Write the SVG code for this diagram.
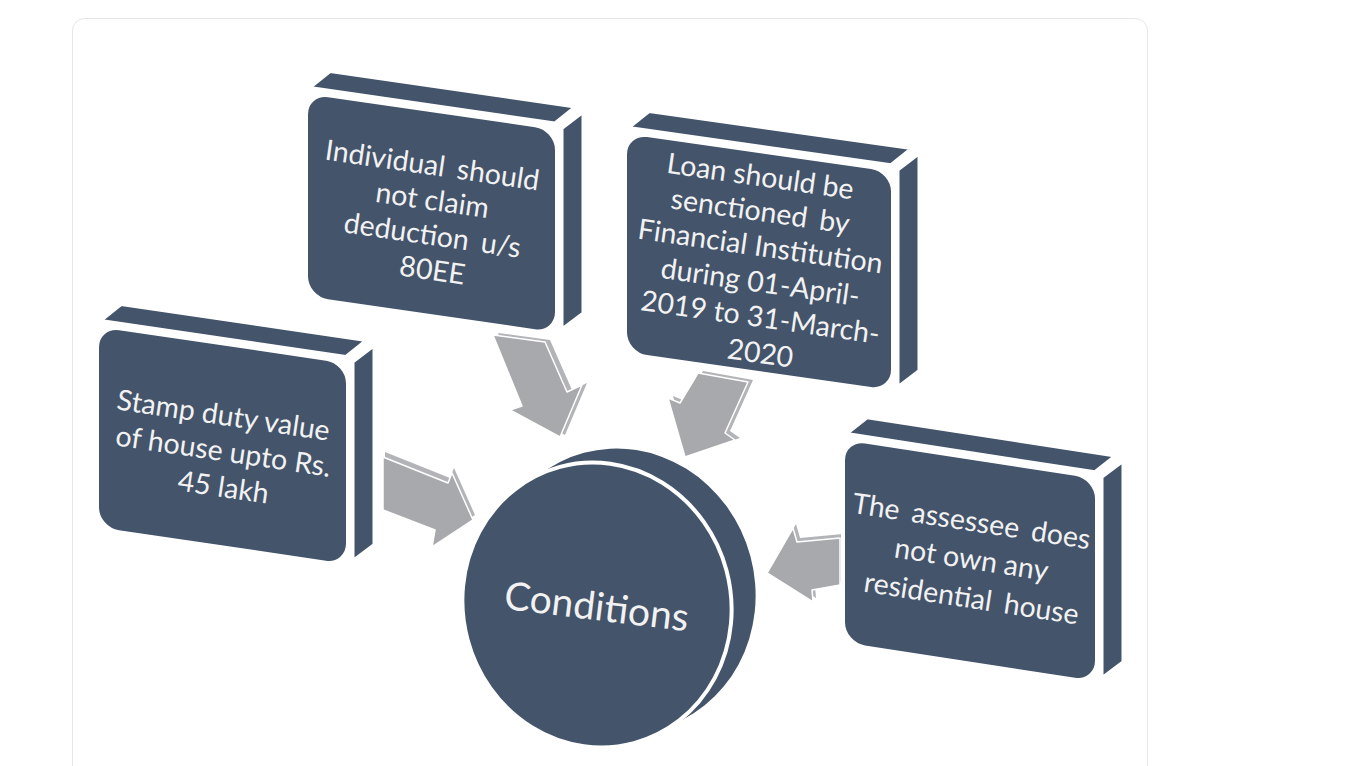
<svg xmlns="http://www.w3.org/2000/svg" width="1362" height="766" viewBox="0 0 1362 766">
  <style>
    .face { fill: #44546a; }
    .edge { fill: #44546a; stroke: #ffffff; stroke-width: 3; stroke-linejoin: round; }
    .front { fill: #44546a; stroke: #ffffff; stroke-width: 4; }
    .lbl { font-family: Lato, "Open Sans", "Liberation Sans", sans-serif; font-size: 28.5px; fill: #f2f2f2; text-anchor: middle; }
    .ws { word-spacing: 5px; }
    .big { font-size: 39px; }
    .arr { fill: #a7a9ac; stroke: #ffffff; stroke-width: 1.5; stroke-linejoin: round; }
    .arrb { fill: #b2b4b7; }
  </style>
  <rect x="72.5" y="18.5" width="1075" height="800" rx="12" fill="#ffffff" stroke="#e6e6e6" stroke-width="1"/>

  <g id="connectors">
    <g id="arrow-1">
      <polygon class="arrb" transform="translate(5,-2)" points="493,335 545,342 567,392 582,385 560,437 510,410 522,406"/>
      <polygon class="arr" points="493,335 545,342 567,392 582,385 560,437 510,410 522,406"/>
    </g>
    <g id="arrow-2">
      <polygon class="arrb" transform="translate(5,-2)" points="698,373 748,382 725,433 735,440 685,457 668,398 680,403"/>
      <polygon class="arr" points="698,373 748,382 725,433 735,440 685,457 668,398 680,403"/>
    </g>
    <g id="arrow-3">
      <polygon class="arrb" transform="translate(2,-5)" points="383,457 448,483 452,473 473,520 432,547 435,530 383,510"/>
      <polygon class="arr" points="383,457 448,483 452,473 473,520 432,547 435,530 383,510"/>
    </g>
    <g id="arrow-4">
      <polygon class="arrb" transform="translate(3,-4)" points="840,538 797,542 793,528 767,573 813,602 812,590 840,585"/>
      <polygon class="arr" points="840,538 797,542 793,528 767,573 813,602 812,590 840,585"/>
    </g>
  </g>

  <g id="node-80ee">
    <g transform="translate(306,92) matrix(1,0.145,0,1,0,0)">
      <polygon class="edge" points="4,-5 249,-5 269,-24 24,-24"/>
      <polygon class="edge" points="256,-1 277,-20 277,181 256,200"/>
      <rect class="front" x="0" y="0" width="251" height="206" rx="22"/>
    </g>
    <text class="lbl ws" x="431" y="175" transform="rotate(8.25 431 175)">Individual should</text>
    <text class="lbl" x="431" y="210" transform="rotate(8.25 431 210)">not claim</text>
    <text class="lbl ws" x="431" y="245" transform="rotate(8.25 431 245)">deduction u/s</text>
    <text class="lbl" x="431" y="280" transform="rotate(8.25 431 280)">80EE</text>
  </g>

  <g id="node-loan">
    <g transform="translate(625,132) matrix(1,0.142,0,1,0,0)">
      <polygon class="edge" points="4,-5 266,-5 286,-24 24,-24"/>
      <polygon class="edge" points="273,-1 294,-20 294,197 273,216"/>
      <rect class="front" x="0" y="0" width="268" height="222" rx="22"/>
    </g>
    <text class="lbl" x="759" y="186" transform="rotate(8.1 759 186)">Loan should be</text>
    <text class="lbl ws" x="759" y="221" transform="rotate(8.1 759 221)">senctioned by</text>
    <text class="lbl" x="759" y="256" transform="rotate(8.1 759 256)">Financial Institution</text>
    <text class="lbl" x="759" y="292" transform="rotate(8.1 759 292)">during 01-April-</text>
    <text class="lbl" x="759" y="327" transform="rotate(8.1 759 327)">2019 to 31-March-</text>
    <text class="lbl" x="759" y="363" transform="rotate(8.1 759 363)">2020</text>
  </g>

  <g id="node-stamp">
    <g transform="translate(97,325) matrix(1,0.147,0,1,0,0)">
      <polygon class="edge" points="4,-5 249,-5 269,-24 24,-24"/>
      <polygon class="edge" points="256,-1 277,-20 277,179 256,198"/>
      <rect class="front" x="0" y="0" width="251" height="204" rx="22"/>
    </g>
    <text class="lbl" x="222" y="425" transform="rotate(8.4 222 425)">Stamp duty value</text>
    <text class="lbl" x="222" y="461" transform="rotate(8.4 222 461)">of house upto Rs.</text>
    <text class="lbl" x="222" y="497" transform="rotate(8.4 222 497)">45 lakh</text>
  </g>

  <g id="node-house">
    <g transform="translate(843,438) matrix(1,0.154,0,1,0,0)">
      <polygon class="edge" points="4,-5 252,-5 272,-24 24,-24"/>
      <polygon class="edge" points="259,-1 280,-20 280,181 259,200"/>
      <rect class="front" x="0" y="0" width="254" height="206" rx="22"/>
    </g>
    <text class="lbl ws" x="970" y="531" transform="rotate(8.75 970 531)">The assessee does</text>
    <text class="lbl" x="970" y="569" transform="rotate(8.75 970 569)">not own any</text>
    <text class="lbl ws" x="970" y="608" transform="rotate(8.75 970 608)">residential house</text>
  </g>

  <g id="node-conditions">
    <ellipse class="face" cx="621" cy="591" rx="134" ry="143" transform="rotate(-15 621 591)"/>
    <ellipse class="front" cx="597" cy="605" rx="134" ry="143" transform="rotate(-15 597 605)"/>
    <text class="lbl big" x="595" y="620" transform="rotate(7 595 620)">Conditions</text>
  </g>
</svg>
